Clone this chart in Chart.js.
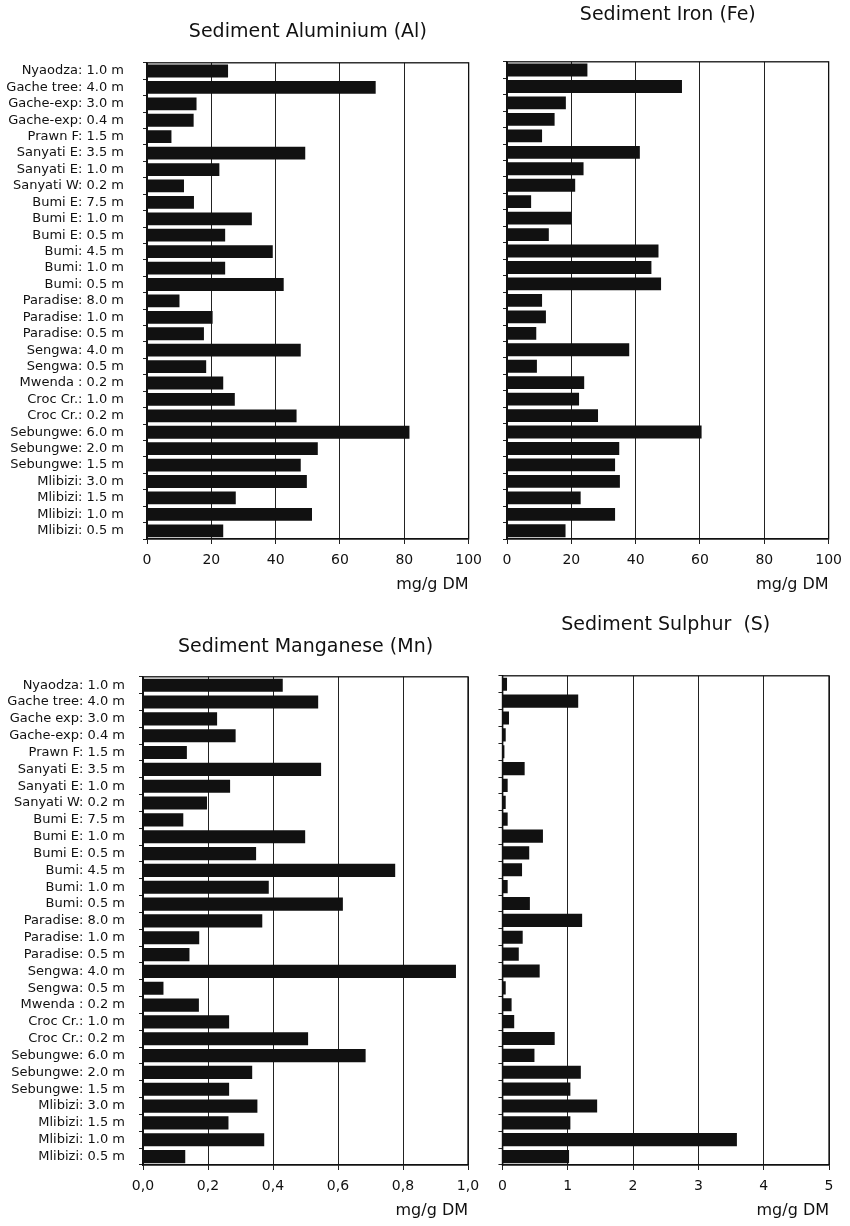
<!DOCTYPE html>
<html lang="en">
  <head>
    <meta charset="UTF-8" />
    <title>Sediment metals</title>
    <script src="https://cdn.jsdelivr.net/npm/chart.js"></script>
    <style>
      body { margin: 0; background: #fff; }
      .wrap { position: relative; width: 850px; height: 1226px; }
      canvas { position: absolute; }
    </style>
  </head>
  <body>
    <div class="wrap">
      <canvas id="alChart" style="left:0;top:0" width="490" height="600"></canvas>
      <canvas id="feChart" style="left:490px;top:0" width="360" height="600"></canvas>
      <canvas id="mnChart" style="left:0;top:600px" width="490" height="626"></canvas>
      <canvas id="sChart" style="left:490px;top:600px" width="360" height="626"></canvas>
    </div>
    <script>
      const labelsTop = [
        "Nyaodza: 1.0 m", "Gache tree: 4.0 m", "Gache-exp: 3.0 m", "Gache-exp: 0.4 m",
        "Prawn F: 1.5 m", "Sanyati E: 3.5 m", "Sanyati E: 1.0 m", "Sanyati W: 0.2 m",
        "Bumi E: 7.5 m", "Bumi E: 1.0 m", "Bumi E: 0.5 m", "Bumi: 4.5 m",
        "Bumi: 1.0 m", "Bumi: 0.5 m", "Paradise: 8.0 m", "Paradise: 1.0 m",
        "Paradise: 0.5 m", "Sengwa: 4.0 m", "Sengwa: 0.5 m", "Mwenda : 0.2 m",
        "Croc Cr.: 1.0 m", "Croc Cr.: 0.2 m", "Sebungwe: 6.0 m", "Sebungwe: 2.0 m",
        "Sebungwe: 1.5 m", "Mlibizi: 3.0 m", "Mlibizi: 1.5 m", "Mlibizi: 1.0 m",
        "Mlibizi: 0.5 m"
      ];
      const labelsBottom = labelsTop.map((l) => l.replace("Gache-exp: 3.0", "Gache exp: 3.0"));

      // mg/g DM
      const aluminium = [25.2, 71.1, 15.4, 14.5, 7.6, 49.2, 22.5, 11.5, 14.6, 32.6, 24.3, 39.1, 24.3, 42.5,
        10.1, 20.4, 17.7, 47.8, 18.4, 23.7, 27.3, 46.5, 81.6, 53.1, 47.8, 49.7, 27.6, 51.3, 23.7];
      const iron = [25.0, 54.4, 18.3, 14.8, 10.9, 41.3, 23.8, 21.2, 7.5, 20.0, 13.0, 47.1, 44.9, 47.9,
        10.9, 12.1, 9.1, 38.0, 9.3, 24.0, 22.4, 28.3, 60.5, 34.9, 33.6, 35.1, 22.9, 33.6, 18.2];
      const manganese = [0.43, 0.539, 0.228, 0.285, 0.135, 0.548, 0.268, 0.197, 0.124, 0.499, 0.348, 0.776,
        0.387, 0.615, 0.367, 0.173, 0.143, 0.963, 0.063, 0.172, 0.265, 0.508, 0.685, 0.336, 0.265, 0.352,
        0.263, 0.373, 0.13];
      const sulphur = [0.07, 1.16, 0.1, 0.05, 0.03, 0.34, 0.08, 0.05, 0.08, 0.62, 0.41, 0.3, 0.08, 0.42,
        1.22, 0.31, 0.25, 0.57, 0.05, 0.14, 0.18, 0.8, 0.49, 1.2, 1.04, 1.45, 1.04, 3.59, 1.02];

      const FONT = "DejaVu Sans";

      const frame = {
        id: "frame",
        afterDatasetsDraw(chart) {
          const a = chart.chartArea;
          const ctx = chart.ctx;
          ctx.save();
          ctx.strokeStyle = "#111";
          ctx.lineWidth = 1.3;
          ctx.strokeRect(a.left, a.top, a.right - a.left, a.bottom - a.top);
          ctx.restore();
        },
      };

      function makeChart(id, title, labels, values, o) {
        return new Chart(document.getElementById(id), {
          type: "bar",
          data: {
            labels: labels,
            datasets: [
              {
                data: values,
                backgroundColor: "#111",
                barPercentage: 0.78,
                categoryPercentage: 1,
              },
            ],
          },
          plugins: [frame],
          options: {
            indexAxis: "y",
            responsive: false,
            animation: false,
            layout: { padding: { left: 0, right: o.padRight, top: 0, bottom: 0 } },
            plugins: {
              legend: { display: false },
              tooltip: { enabled: false },
              title: {
                display: true,
                text: title,
                fullSize: false,
                color: "#111",
                font: { family: FONT, size: 19, weight: "normal" },
                padding: { top: o.titleTop, bottom: o.titleBottom },
              },
            },
            scales: {
              x: {
                min: 0,
                max: o.max,
                ticks: {
                  stepSize: o.step,
                  padding: 8,
                  color: "#111",
                  font: { family: FONT, size: 14 },
                  maxRotation: 0,
                  callback: o.fmt,
                },
                grid: { color: "#222", lineWidth: 1, tickLength: 5 },
                border: { color: "#111", width: 1.3 },
                title: {
                  display: true,
                  text: "mg/g DM",
                  align: "end",
                  color: "#111",
                  font: { family: FONT, size: 16 },
                  padding: { top: 0, bottom: 6 },
                },
                afterFit: (s) => { s.height = 61; },
              },
              y: {
                ticks: {
                  display: o.showLabels,
                  padding: o.labelPad,
                  color: "#111",
                  font: { family: FONT, size: 13 },
                  autoSkip: false,
                },
                grid: { drawOnChartArea: false, tickLength: 4, color: "#222" },
                border: { color: "#111", width: 1.3 },
                afterFit: (s) => { s.width = o.yWidth; },
              },
            },
          },
        });
      }

      const plain = (v) => v;
      const comma = (v) => Number(v).toFixed(1).replace(".", ",");

      makeChart("alChart", "Sediment Aluminium (Al)", labelsTop, aluminium,
        { max: 100, step: 20, fmt: plain, yWidth: 147, padRight: 17, titleTop: 21, titleBottom: 19, showLabels: true, labelPad: 19 });
      makeChart("feChart", "Sediment Iron (Fe)", labelsTop, iron,
        { max: 100, step: 20, fmt: plain, yWidth: 17, padRight: 21, titleTop: 4, titleBottom: 35, showLabels: false, labelPad: 0 });
      makeChart("mnChart", "Sediment Manganese (Mn)", labelsBottom, manganese,
        { max: 1, step: 0.2, fmt: comma, yWidth: 143, padRight: 22, titleTop: 36, titleBottom: 18, showLabels: true, labelPad: 14 });
      makeChart("sChart", "Sediment Sulphur  (S)", labelsBottom, sulphur,
        { max: 5, step: 1, fmt: plain, yWidth: 12, padRight: 21, titleTop: 14, titleBottom: 39, showLabels: false, labelPad: 0 });
    </script>
  </body>
</html>
